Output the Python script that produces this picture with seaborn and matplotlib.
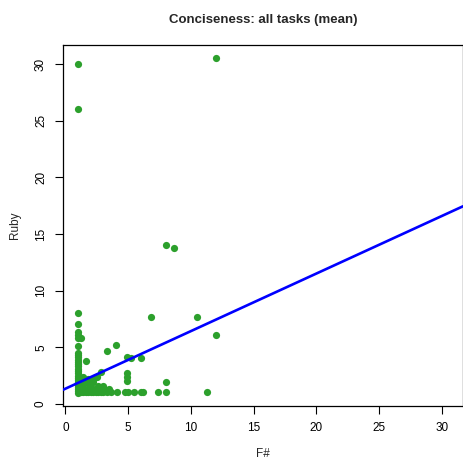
import matplotlib

matplotlib.use("Agg")

import matplotlib.pyplot as plt
import pandas as pd
import seaborn as sns

# F# vs Ruby conciseness (mean over tasks)
fsharp = [
    1, 1, 12, 8, 8.65, 6.8, 10.5, 12, 8, 7.4, 8, 11.3,
    # column at x = 1
    1, 1, 1, 1, 1, 1, 1, 1, 1, 1, 1, 1, 1, 1, 1, 1, 1, 1, 1, 1, 1, 1, 1, 1, 1,
    # scattered low points
    1.25, 1.65, 3.3, 4.0, 4.9, 5.2, 6.0, 4.9, 4.9, 4.9, 2.8, 2.5,
    # bottom row
    1.2, 1.4, 1.6, 1.8, 2.0, 2.2, 2.4, 2.6, 2.8, 3.0, 3.3, 3.6, 4.1, 4.75, 5.0, 5.5, 6.0, 6.2,
    # dense cluster
    1.2, 1.3, 1.5, 1.7, 1.8, 2.0, 2.2, 2.4, 2.6, 2.3, 1.4, 2.8, 3.2, 3.5, 1.9, 2.1,
    1.3, 1.6, 1.9, 2.5, 1.2, 1.5, 2.7, 3.0,
]
ruby = [
    30, 26, 30.5, 14, 13.8, 7.7, 7.65, 6.05, 1.9, 1.05, 1.05, 1.05,
    8.05, 7.05, 6.35, 6.1, 5.85, 5.15, 4.5, 4.3, 4.1, 3.9, 3.7, 3.5, 3.3, 3.1,
    2.9, 2.7, 2.5, 2.3, 2.1, 1.9, 1.7, 1.5, 1.3, 1.1, 1.0,
    5.85, 3.8, 4.7, 5.2, 4.1, 4.05, 4.05, 2.7, 2.4, 2.05, 2.85, 2.35,
    1.05, 1.05, 1.05, 1.05, 1.05, 1.05, 1.05, 1.05, 1.05, 1.05, 1.05, 1.05, 1.05, 1.05, 1.05, 1.05, 1.05, 1.05,
    1.5, 2.0, 1.3, 1.8, 2.2, 1.5, 1.9, 1.3, 1.6, 2.3, 2.4, 1.3, 1.2, 1.3, 1.1, 2.0,
    1.7, 2.1, 1.4, 1.1, 2.2, 1.1, 1.5, 1.6,
]

# fitted line (abline of lm)
fit_intercept = 1.34
fit_slope = 0.508

ticks = [0, 5, 10, 15, 20, 25, 30]

df = pd.DataFrame({"F#": fsharp, "Ruby": ruby})

sns.set_style("ticks")
plt.rcParams["font.family"] = ["Liberation Sans", "DejaVu Sans"]

fig = plt.figure(figsize=(4.63, 4.62), dpi=100)
ax = fig.add_axes([0.136, 0.121, 0.864, 0.782])

sns.scatterplot(data=df, x="F#", y="Ruby", color="#2ca02c", s=27, linewidth=0, ax=ax, zorder=3)
ax.axline((0, fit_intercept), slope=fit_slope, color="#0000ff", linewidth=1.9, zorder=4)

ax.set_xlim(-0.2, 31.7)
ax.set_ylim(-0.2, 31.7)
ax.set_xticks(ticks)
ax.set_yticks(ticks)
ax.tick_params(axis="both", direction="out", length=5.5, width=0.8, labelsize=8.5, colors="black", pad=6)
for lbl in ax.get_yticklabels():
    lbl.set_rotation(90)
    lbl.set_va("center")

for sp in ax.spines.values():
    sp.set_visible(True)
    sp.set_color("black")
    sp.set_linewidth(0.9)

ax.set_xlabel("F#", fontsize=8.5, labelpad=10)
ax.set_ylabel("Ruby", fontsize=8.5, labelpad=10)
ax.set_title("Conciseness: all tasks (mean)", fontsize=9.5, fontweight="bold", pad=16)

fig.savefig("out.png", dpi=100)
plt.close(fig)
